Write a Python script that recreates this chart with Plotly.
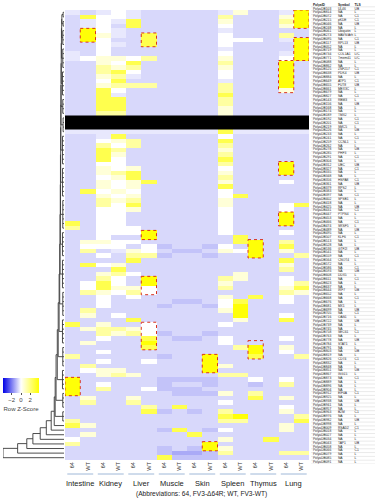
import plotly.graph_objects as go

# ---------------- data ----------------
tissues = ["Intestine", "Kidney", "Liver", "Muscle", "Skin", "Spleen", "Thymus", "Lung"]
col_labels = ["64", "WT", "64", "WT", "64", "WT", "64", "WT",
              "64", "WT", "64", "WT", "64", "WT", "64", "WT"]

# row z-score levels (code -> z)
level_z = {"d": -1.3, "b": -0.92, "l": -0.6, "p": -0.35, "w": 0.0,
           "c": 0.6, "e": 1.45, "y": 2.7, "Y": 3.8}

# each row: 8 tissue pairs (64, WT)
row_codes = [
    "pl pw pl ll ll pc ll pY",  # 0
    "ly ww pl ll ll el ll cY",
    "lp wp yl ll ll cl ll eY",
    "lp wl yl ll ll wl ll cY",
    "lY wp ll ll ll pl ll ll",
    "lY cp ly ll ll wl ll el",  # 5
    "lY wl ly ll ll ww wl pY",
    "ll wp ly ll ll wl ll lY",
    "ll wl ll ll ll pl ll lY",
    "pl wl ll ll ll wl ll pY",
    "pw cc we ll ll cl ll wY",  # 10
    "ll cw yl ll ll el ll Yl",
    "ll ec el ll ll cl ll Yl",
    "ll ey wl ll ll wl ll Yl",
    "ll ce pl ll ll wl ll Yl",
    "ll wy ll ll ll pl ll Yl",  # 15
    "ll ce ee ll ll el ll Yl",
    "ll yw ll ll ll el ll cl",
    "ll yp ll ll ll yl ll ll",
    "ll yy ll ll ll el ll ll",
    "ll yy ll ll ll el ll ll",  # 20
    "ll yy ll ll ll cl ll ll",
    "ll ee ll ll ll cl ll ll",
    "ll ll ll ll ll ll ll ll",
    "ll ll ll ll ll ll ll ll",
    "ll ll ll ll ll ll ll ll",  # 25
    "pp pp pp pp pp yp pp pp",
    "ll py ll ll ll wl ll ll",
    "ll wc el ll ll yl ll ll",
    "ll ew el ll ll el ll ll",
    "ll ye ll ll ll cl ll ll",  # 30
    "ll yc ll ll ll el ll ll",
    "ll yw ll ll ll yl ll ll",
    "ll ww ll ll ll el ll Yl",
    "ll cw cl ll ll wl ll Yl",
    "ll ce yl ll ll cl ll Yl",  # 35
    "ll wc yl ll ll el ll ll",
    "ll cw cy ll ll cl ll wl",
    "ll cw cl ll ll yl ll ll",
    "ly wc wl ll ll wl ll ll",
    "ll cw cl ll ll wy ll ll",  # 40
    "ll ec el ll ll cl ll ll",
    "ll ew yl ll ll cl ll wy",
    "ll ww cl ll ll wl ll wl",
    "ll ww ll ll ll wl ll Yl",
    "ll ww ll ll ll wl ll Yl",  # 45
    "yl ww ll ll ll wl ll Yl",
    "el ww wl ll ll wl ll ll",
    "ll ww wY ll ll wl ll wl",
    "ll wl lY ll ll ly ll ll",
    "lc cw wl ll ll ly Yl el",  # 50
    "lw ww lw bl lb wl Yl yl",
    "le lp cw lb bl cw Yl cl",
    "ll wl ee bl lb ll Yl le",
    "ll ll yl ll ll ll ll yl",
    "ly wc ll ll ll ll ll cl",  # 55
    "ll ly ll ll ll ll ll el",
    "ll ce wl ll ll lc ll ll",
    "ll ew lY ll ll ec ll wl",
    "lw yw lY ll ll cl ll we",
    "lw yc cw ll ll el ll cy",  # 60
    "le cw ew ll ll ll ll ec",
    "ll wl wl ll ll cl yl wl",
    "ll wl ll lb bl wy ll wl",
    "ll wl ll bl lb wY ll ll",
    "le ll ll ll ll cY ll ll",  # 65
    "lc lw ll ll ll lY ll wl",
    "ll ll yl ll ll lc ll yl",
    "yl cl lw ll ll wl ll ll",
    "lc ee cw ll ll ll ll ll",
    "ll ec ew bl lb ll ll ll",  # 70
    "ll wl ly lb bl wl ll wl",
    "lc ll lY ll ll wl ll ll",
    "ll ll ly ll ll le Yl cl",
    "ll wl ll ll ll ll Yl wl",
    "el ll ll bl lY ll yl le",  # 75
    "ll wl lw ll lY ll ll ll",
    "le ll ll ll lY cl ll ll",
    "lw cc ll ll lY ll ll ll",
    "ll ce cl ll ll ee ll ll",
    "Yl ll ll bb bb ll wl wl",  # 80
    "Yl wl ll bl lb ll bl el",
    "Yl el lw bb bl ll ll ll",
    "Yl ll ll lb bb cl el ll",
    "lc ll cl ll ll ll yl cl",
    "le ll el ll ll wl ll ll",  # 85
    "ll ll le ly ll ll ll wl",
    "ll ll ly bl bl el ll cl",
    "ll ll ll ll ll yY ll le",
    "el ll ll ll ll ee ll ly",
    "yc ll ll ll ll ll ll cl",  # 90
    "ll ll ll by lb wl ll cl",
    "lc ll ll ll yl ll ll ll",
    "wl ll ll ll ll cl ly ll",
    "el ll ll ll lY ll ll ll",
    "ll ll ll bl bY cl ll ll",  # 95
    "ll ll ll bd db el ll ee",
    "ll ll ll yb bb ll ll ll",
]

# highlighted cells (column index, first row, last row)
boxes = [(15, 0, 3), (1, 4, 6), (5, 5, 7), (15, 6, 10), (14, 11, 17),
         (14, 33, 35), (14, 44, 46), (5, 48, 49), (12, 50, 53), (5, 58, 61),
         (5, 68, 73), (12, 72, 75), (9, 75, 78), (0, 80, 83), (9, 94, 95)]
masked_rows = (23, 25)  # blacked-out rows

# dendrogram structure: (first row, last row, inner height), then chain heights
top_groups = [(0, 1, 0.15), (2, 3, 0.15), (4, 7, 0.2), (8, 12, 0.2), (13, 18, 0.25),
              (19, 22, 0.2), (23, 26, 0.15), (27, 33, 0.25), (34, 40, 0.25),
              (41, 47, 0.2), (48, 53, 0.25), (54, 60, 0.25), (61, 66, 0.2),
              (67, 72, 0.25), (73, 77, 0.2), (78, 82, 0.25), (83, 86, 0.2), (87, 89, 0.2)]
top_chain_heights = [0.35, 0.38, 0.42, 0.45, 0.48, 0.5, 0.52, 0.55, 0.58,
                     0.6, 0.65, 0.7, 0.8, 0.95, 1.1, 1.3, 1.45]
bottom_rows = [90, 91, 92, 93, 94, 95, 96, 97]
bottom_heights = [1.6, 2.1, 2.9, 3.9, 5.1, 6.1, 7.6, 10.0]

# side table
table_header = ["PolyaID", "Symbol", "TLS"]
table_ids = ("PolyaDB103 PolyaDB814 PolyaDB072 PolyaDB215 PolyaDB046 PolyaDB248 PolyaDB061 PolyaDB273 PolyaDB095 PolyaDB117 "
             "PolyaDB052 PolyaDB719 PolyaDB734 PolyaDB771 PolyaDB088 PolyaDB862 PolyaDB125 PolyaDB638 PolyaDB884 PolyaDB649 "
             "PolyaDB655 PolyaDB661 PolyaDB679 PolyaDB827 PolyaDB143 PolyaDB156 PolyaDB168 PolyaDB174 PolyaDB189 PolyaDB192 "
             "PolyaDB201 PolyaDB219 PolyaDB226 PolyaDB233 PolyaDB241 PolyaDB259 PolyaDB262 PolyaDB278 PolyaDB285 PolyaDB291 "
             "PolyaDB304 PolyaDB312 PolyaDB327 PolyaDB335 PolyaDB348 PolyaDB356 PolyaDB361 PolyaDB379 PolyaDB383 PolyaDB397 "
             "PolyaDB402 PolyaDB418 PolyaDB425 PolyaDB431 PolyaDB447 PolyaDB453 PolyaDB466 PolyaDB474 PolyaDB489 PolyaDB495 "
             "PolyaDB507 PolyaDB513 PolyaDB528 PolyaDB536 PolyaDB541 PolyaDB559 PolyaDB564 PolyaDB572 PolyaDB586 PolyaDB593 "
             "PolyaDB608 PolyaDB611 PolyaDB623 PolyaDB637 PolyaDB644 PolyaDB652 PolyaDB668 PolyaDB676 PolyaDB681 PolyaDB699 "
             "PolyaDB705 PolyaDB716 PolyaDB722 PolyaDB739 PolyaDB745 PolyaDB758 PolyaDB763 PolyaDB778 PolyaDB784 PolyaDB791 "
             "PolyaDB803 PolyaDB819 PolyaDB826 PolyaDB832 PolyaDB848 PolyaDB851 PolyaDB867 PolyaDB873 PolyaDB889 PolyaDB896 "
             "PolyaDB904 PolyaDB912 PolyaDB925 PolyaDB938 PolyaDB941 PolyaDB957 PolyaDB963 PolyaDB976 PolyaDB982 PolyaDB998 "
             "PolyaDB009 PolyaDB018 PolyaDB027 PolyaDB034 PolyaDB043 PolyaDB058 PolyaDB066 PolyaDB079 PolyaDB085 PolyaDB091").split()
table_symbols = ("UL46 NA NA pKDE NA NA Ubiquitin MAVS/Arh NA RPL13 "
                 "NA NA COL1A1 Tmem41 NA NA ZNF217 PDK4 NA ATP5 "
                 "FUT8 MEX3C NA NA RBM3 NA NA NA TMX2 NA "
                 "NA SMC5 NA NA NA CCNL1 NA NA PHF3 NA "
                 "NA UBC NA NA NA HSPA8 NA RPS2 NA NA "
                 "SPSB1 NA NA NA PTPN4 NA NA SRSF5 NA NA "
                 "KLF6 NA NA GTF2I NA NA CNOT4 NA NA NA "
                 "DDX5 NA NA NA IRF7 NA NA NA MX1 NA "
                 "NA OAS1 NA NA NA SEC61 NA NA STAT1 NA "
                 "NA NA CD74 NA NA NA ISG15 NA NA NA "
                 "NA EIF4A NA NA NA NA B2M NA NA NA "
                 "RSAD2 NA NA NA TAP1 NA NA NA NA NA").split()
table_types = ("UB L C1 C1 UB L L L C1 UB "
               "L L L/C L/C L L C1 UB L C1 "
               "UB L L C1 L UB L L L C1 "
               "C1 L UB L C1 L L UB L C1 "
               "L UB C1 L L C1 UB L L C1 "
               "L L UB C1 L L C1 L UB L "
               "C1 L L UB L C1 L L C1 UB "
               "L C1 L L UB L C1 L L UB "
               "C1 L UB L L C1 L UB L L "
               "UB L C1 L L UB L C1 L L "
               "L C1 L UB L L C1 L UB L "
               "C1 L L L UB L C1 L L L").split()

# ---------------- build ----------------
FONT = "Liberation Sans, Arial, sans-serif"
z = []
for r in row_codes:
    cells = r.replace(" ", "")
    assert len(cells) == 16, r
    z.append([level_z[ch] for ch in cells])
n_rows = len(z)
n_cols = len(col_labels)

fig = go.Figure()

fig.add_trace(go.Heatmap(
    z=z, x=list(range(n_cols)), y=list(range(n_rows)),
    colorscale=[[0, "#0000e6"], [0.5, "#ffffff"], [1, "#ffff00"]],
    zmin=-3.9, zmax=3.9, xaxis="x", yaxis="y",
    colorbar=dict(orientation="h", x=21 / 375, xanchor="center",
                  y=1 - 378 / 500, yanchor="top", len=36, lenmode="pixels",
                  thickness=15, xpad=0, ypad=0, outlinewidth=0,
                  tickvals=[-2, 0, 2], ticks="outside", ticklen=2, tickwidth=0.6,
                  tickcolor="#555", tickfont=dict(size=6, color="#444", family=FONT),
                  title=dict(text="Row Z-Score", side="bottom",
                             font=dict(size=6, color="#444", family=FONT))),
    hoverinfo="skip"))

# dendrogram segments
dx, dy = [], []
def seg(x0, x1, y0, y1):
    dx.extend([x0, x1, None]); dy.extend([y0, y1, None])

centers = []
for (a, b, h) in top_groups:
    for r in range(a, b + 1):
        seg(0, h, r, r)
    seg(h, h, a, b)
    centers.append(((a + b) / 2, h))
c, hc = centers[0]
for (gc, gh), H in zip(centers[1:], top_chain_heights):
    seg(hc, H, c, c)
    seg(gh, H, gc, gc)
    seg(H, H, c, gc)
    c, hc = (c + gc) / 2, H
for r, H in zip(bottom_rows, bottom_heights):
    seg(hc, H, c, c)
    seg(0, H, r, r)
    seg(H, H, c, r)
    c, hc = (c + r) / 2, H

fig.add_trace(go.Scatter(x=dx, y=dy, mode="lines", xaxis="x2", yaxis="y2",
                         line=dict(color="#3a3a3a", width=0.9), hoverinfo="skip",
                         showlegend=False))

# side table
n_t = len(table_ids)
tx, ty, tt = [], [], []
col_pos = [0.03, 0.42, 0.68]
for j, h in enumerate(table_header):
    tx.append(col_pos[j]); ty.append(0); tt.append("<b>" + h + "</b>")
for i in range(n_t):
    for j, v in enumerate([table_ids[i], table_symbols[i], table_types[i]]):
        tx.append(col_pos[j]); ty.append(i + 1); tt.append(v)
fig.add_trace(go.Scatter(x=tx, y=ty, text=tt, mode="text", textposition="middle right",
                         textfont=dict(size=3.3, color="#222", family=FONT),
                         xaxis="x3", yaxis="y3", hoverinfo="skip", showlegend=False))
lx, ly = [], []
for k in range(n_t + 1):
    lx.extend([0, 1, None]); ly.extend([k + 0.5, k + 0.5, None])
fig.add_trace(go.Scatter(x=lx, y=ly, mode="lines", xaxis="x3", yaxis="y3",
                         line=dict(color="#d4d4d4", width=0.5), hoverinfo="skip",
                         showlegend=False))

# shapes: black mask, highlight boxes, tissue underlines
shapes = [dict(type="rect", xref="x", yref="y", x0=-0.5, x1=n_cols - 0.5,
               y0=masked_rows[0] - 0.5, y1=masked_rows[1] + 0.5,
               fillcolor="black", line=dict(width=0), layer="above")]
for (ci, r0, r1) in boxes:
    shapes.append(dict(type="rect", xref="x", yref="y", x0=ci - 0.5, x1=ci + 0.5,
                       y0=r0 - 0.5, y1=r1 + 0.5, fillcolor="rgba(0,0,0,0)",
                       line=dict(color="#d8331f", width=1, dash="dot"), layer="above"))
annotations = []
for k, t in enumerate(tissues):
    shapes.append(dict(type="line", xref="x", yref="paper", x0=2 * k - 0.35, x1=2 * k + 1.35,
                       y0=1 - 474 / 500, y1=1 - 474 / 500,
                       line=dict(color="#9fb8d8", width=1)))
    annotations.append(dict(text=t, xref="x", yref="paper", x=2 * k + 0.5, y=1 - 483 / 500,
                            showarrow=False, yanchor="middle",
                            font=dict(size=7.5, color="#222", family=FONT)))
annotations.append(dict(text="(Abbreviations: 64, FV3-\u039464R; WT, FV3-WT)",
                        xref="paper", yref="paper", x=201 / 375, y=1 - 494 / 500,
                        showarrow=False, yanchor="middle",
                        font=dict(size=6.6, color="#222", family=FONT)))

ydom = [1 - 460 / 500, 1 - 10 / 500]
fig.update_layout(
    width=375, height=500, margin=dict(l=0, r=0, t=0, b=0),
    paper_bgcolor="white", plot_bgcolor="white", showlegend=False,
    font=dict(family=FONT),
    xaxis=dict(domain=[65 / 375, 309 / 375], range=[-0.5, n_cols - 0.5], anchor="y",
               tickvals=list(range(n_cols)), ticktext=col_labels, tickangle=-90,
               tickfont=dict(size=5.5, color="#333", family=FONT), ticks="",
               showgrid=False, zeroline=False, showline=False),
    yaxis=dict(domain=ydom, range=[n_rows - 0.5, -0.5], anchor="x",
               showticklabels=False, showgrid=False, zeroline=False, ticks=""),
    xaxis2=dict(domain=[3 / 375, 64 / 375], range=[10.0, 0], anchor="y2", visible=False),
    yaxis2=dict(domain=ydom, range=[n_rows - 0.5, -0.5], anchor="x2", visible=False),
    xaxis3=dict(domain=[311 / 375, 1.0], range=[0, 1], anchor="y3", visible=False),
    yaxis3=dict(domain=[1 - 464 / 500, 1 - 3 / 500], range=[n_t + 0.5, -0.5],
                anchor="x3", visible=False),
    shapes=shapes, annotations=annotations,
)

fig.write_html("out.html", config={"displayModeBar": False},
               post_script="document.body.style.margin='0';")
